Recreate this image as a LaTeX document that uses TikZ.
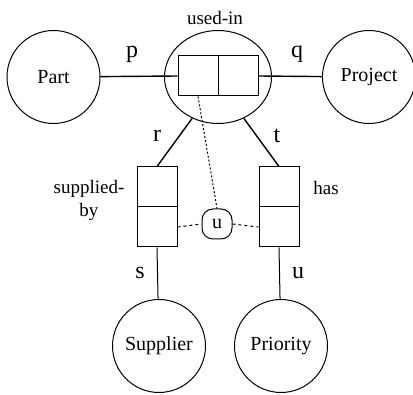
\documentclass[tikz,border=0pt]{standalone}
\usepackage{fontspec}
\setmainfont{Liberation Serif}
\newfontfamily\diagfont{Liberation Serif}
\usetikzlibrary{shapes.geometric}

\tikzset{
  entity/.style={circle, draw, line width=1pt, minimum size=93pt, inner sep=0pt, font=\diagfont\fontsize{20}{24}\selectfont},
  relship/.style={ellipse, draw, line width=1pt, minimum width=107pt, minimum height=93pt, inner sep=0pt},
  cell/.style={rectangle, draw, line width=1pt, minimum width=40pt, minimum height=40pt, inner sep=0pt},
  joiner/.style={rectangle, draw, line width=1pt, rounded corners=11pt, minimum size=30pt, inner sep=0pt, font=\diagfont\fontsize{20}{24}\selectfont},
  role/.style={font=\diagfont\fontsize{24}{26}\selectfont, inner sep=0pt},
  caption/.style={font=\diagfont\fontsize{19}{23}\selectfont, inner sep=0pt, align=center},
  thickline/.style={line width=1.4pt},
  thinline/.style={line width=1pt},
  dotline/.style={line width=1pt, dash pattern=on 2pt off 2pt},
  dashline/.style={line width=1pt, dash pattern=on 3pt off 3pt},
}

\begin{document}
\begin{tikzpicture}[x=1pt, y=-1pt]
\useasboundingbox (0,0) rectangle (413,395);

% entities
\node[entity] (part) at (53.5,77) {Part};
\node[entity] (project) at (369,77) {Project};
\node[entity] (supplier) at (159,346) {Supplier};
\node[entity] (priority) at (281,346) {Priority};

% ternary relationship with its two-role box
\node[relship] (usedin) at (218,77) {};
\node[cell] (uiL) at (198,76) {};
\node[cell] (uiR) at (238,76) {};

% binary relationships
\node[cell] (sbT) at (157,187) {};
\node[cell] (sbB) at (157,227) {};
\node[cell] (hsT) at (279,187) {};
\node[cell] (hsB) at (279,227) {};

% uniqueness constraint
\node[joiner] (uc) at (217,224) {u};

% connectors
\draw[thickline] (part) -- (uiL.west);
\draw[thickline] (uiR.east) -- (project);
\draw[thickline] (sbT.north) -- (usedin.238);
\draw[thickline] (hsT.north) -- (usedin.302);
\draw[thinline] (sbB.south) -- (supplier);
\draw[thinline] (hsB.south) -- (priority);
\draw[dotline] (uiL.south) -- (uc.north);
\draw[dashline] (sbB.east) -- (uc.west);
\draw[dashline] (uc.east) -- (hsB.west);

% role labels
\node[role] (lp) at (132,54) {p};
\node[role] (lq) at (297,54) {q};
\node[role] (lr) at (157,136) {r};
\node[role] (lt) at (277,136) {t};
\node[role] (ls) at (140,273) {s};
\node[role] (lu) at (298,273) {u};

% relationship names
\node[caption] (nusedin) at (215,18) {used-in};
\node[caption] (nsupplied) at (89,200) {supplied-\\by};
\node[caption] (nhas) at (326,188) {has};
\end{tikzpicture}
\end{document}
